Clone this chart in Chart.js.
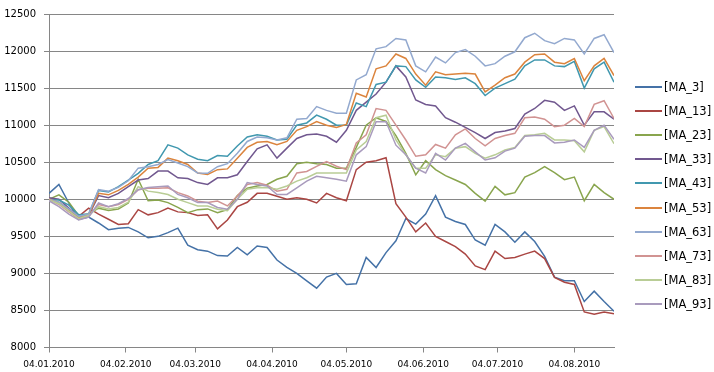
<!DOCTYPE html>
<html>
<head>
<meta charset="utf-8">
<script src="https://cdn.jsdelivr.net/npm/chart.js@4.4.0/dist/chart.umd.min.js"></script>
<style>
    body { margin: 0; background: #fff; }
    #wrap { position: relative; width: 714px; height: 372px; }
    #legend { position: absolute; left: 635px; top: 75px; font: 11.5px "DejaVu Sans"; color: #000; }
    .item { height: 24.1px; display: flex; align-items: center; white-space: nowrap; }
    .swatch { display: inline-block; width: 27px; height: 2px; margin-right: 2px; }
</style>
</head>
<body>
<div id="wrap">
    <canvas id="maChart" width="714" height="372"></canvas>
    <div id="legend"></div>
</div>
<script>
// days since 04.01.2010
const days = [0, 4, 8, 12, 16, 20, 24, 28, 32, 36, 40, 44, 48, 52, 56, 60, 64, 68, 72, 76,
    80, 84, 88, 92, 96, 100, 104, 108, 112, 116, 120, 124, 128, 132, 136, 140, 144, 148, 152, 156,
    160, 164, 168, 172, 176, 180, 184, 188, 192, 196, 200, 204, 208, 212, 216, 220, 224, 228];

const tickDays = [0, 31, 59, 90, 120, 151, 181, 212];
const tickLabels = ["04.01.2010", "04.02.2010", "04.03.2010", "04.04.2010",
    "04.05.2010", "04.06.2010", "04.07.2010", "04.08.2010"];

const seriesNames = ["[MA_3]", "[MA_13]", "[MA_23]", "[MA_33]", "[MA_43]",
    "[MA_53]", "[MA_63]", "[MA_73]", "[MA_83]", "[MA_93]"];
const seriesColors = ["#4572A7", "#AA4643", "#89A54E", "#71588F", "#4198AF",
    "#DB843D", "#93A9CF", "#D19392", "#B9CD96", "#A99BBD"];

const ma3 = [10080, 10200, 9950, 9730, 9760, 9680, 9590, 9610, 9620, 9560, 9480, 9500,
    9550, 9610, 9380, 9320, 9300, 9240, 9235, 9350, 9250, 9370, 9350, 9180,
    9080, 9000, 8900, 8800, 8950, 9000, 8850, 8860, 9215, 9080, 9280, 9440,
    9740, 9665, 9800, 10050, 9760, 9700, 9660, 9450, 9380, 9660, 9560, 9420,
    9560, 9430, 9230, 8950, 8900, 8900, 8620, 8760, 8620, 8490];
const ma13 = [10000, 9950, 9870, 9770, 9880, 9800, 9730, 9660, 9670, 9860, 9790, 9820,
    9880, 9830, 9820, 9780, 9790, 9600, 9720, 9900, 9960, 10080, 10080, 10040,
    10000, 10020, 10000, 9950, 10080, 10020, 9980, 10400, 10500, 10520, 10560, 9940,
    9760, 9560, 9680, 9500, 9430, 9360, 9260, 9100, 9050, 9300, 9200, 9215,
    9260, 9300, 9200, 8945, 8880, 8850, 8480, 8450, 8480, 8455];
const ma23 = [10000, 10060, 9960, 9780, 9800, 9880, 9850, 9870, 9950, 10270, 9980, 9990,
    9955, 9890, 9820, 9860, 9870, 9820, 9860, 10050, 10150, 10180, 10200, 10270,
    10310, 10480, 10500, 10480, 10470, 10420, 10420, 10700, 11000, 11100, 11050, 10860,
    10620, 10330, 10520, 10400, 10320, 10260, 10200, 10080, 9975, 10175, 10060, 10090,
    10300, 10360, 10440, 10360, 10265, 10300, 9980, 10200, 10090, 10000];
const ma33 = [10020, 10000, 9880, 9760, 9780, 10050, 10020, 10080, 10170, 10260, 10280, 10380,
    10380, 10290, 10280, 10225, 10200, 10290, 10290, 10330, 10510, 10680, 10735, 10555,
    10690, 10820, 10870, 10880, 10850, 10770, 10930, 11200, 11310, 11420, 11580, 11800,
    11650, 11340, 11280, 11260, 11100, 11040, 10970, 10900, 10820, 10900, 10920, 10955,
    11150, 11225, 11335, 11310, 11200, 11260, 11000, 11180, 11180, 11080];
const ma43 = [9990, 9990, 9920, 9790, 9800, 10120, 10100, 10170, 10260, 10350, 10470, 10520,
    10735, 10690, 10600, 10540, 10520, 10590, 10580, 10720, 10840, 10870, 10850, 10800,
    10810, 11000, 11030, 11135, 11080, 11000, 11000, 11300, 11250, 11550, 11580, 11800,
    11790, 11610, 11510, 11650, 11640, 11615, 11640, 11560, 11400, 11500, 11560, 11620,
    11800, 11880, 11880, 11800, 11790, 11860, 11500, 11760, 11850, 11580];
const ma53 = [10000, 9960, 9860, 9750, 9790, 10080, 10060, 10120, 10200, 10300, 10420, 10430,
    10555, 10520, 10470, 10355, 10335, 10400, 10410, 10555, 10700, 10770, 10780, 10735,
    10780, 10930, 10980, 11050, 11000, 10970, 11010, 11430, 11380, 11760, 11800, 11960,
    11900, 11690, 11540, 11720, 11680, 11690, 11700, 11690, 11450, 11540, 11640, 11690,
    11850, 11950, 11960, 11850, 11830, 11900, 11600, 11800, 11900, 11670];
const ma63 = [10000, 9960, 9870, 9770, 9800, 10130, 10110, 10160, 10250, 10420, 10440, 10470,
    10535, 10490, 10440, 10355, 10350, 10440, 10480, 10620, 10780, 10840, 10830, 10800,
    10830, 11080, 11090, 11250, 11200, 11160, 11160, 11610, 11680, 12030, 12060, 12170,
    12150, 11800, 11720, 11920, 11840, 11980, 12020, 11930, 11800, 11830, 11930, 11990,
    12180, 12240, 12140, 12100, 12170, 12150, 11960, 12170, 12220, 11980];
const ma73 = [10000, 9930, 9830, 9730, 9770, 9930, 9900, 9930, 10000, 10130, 10150, 10150,
    10155, 10090, 10045, 9975, 9955, 9975, 9910, 10045, 10200, 10225, 10190, 10110,
    10135, 10355, 10375, 10445, 10510, 10445, 10400, 10760, 10870, 11225, 11200, 11000,
    10800, 10580, 10600, 10740, 10690, 10870, 10950, 10820, 10720, 10820, 10860, 10890,
    11100, 11110, 11080, 10980, 11000, 11090, 10980, 11280, 11330, 11090];
const ma83 = [9990, 9940, 9840, 9740, 9780, 9900, 9870, 9890, 9960, 10170, 10110, 10090,
    10065, 10000, 9955, 9910, 9910, 9865, 9845, 10000, 10135, 10155, 10160, 10135,
    10180, 10245, 10290, 10355, 10355, 10355, 10355, 10665, 10780, 11100, 11135, 10800,
    10600, 10420, 10420, 10600, 10575, 10690, 10710, 10620, 10555, 10600, 10665, 10700,
    10860, 10870, 10890, 10800, 10800, 10790, 10640, 10930, 10980, 10750];
const ma93 = [9980, 9900, 9800, 9720, 9760, 9950, 9900, 9940, 10010, 10130, 10160, 10170,
    10180, 10065, 10020, 9955, 9955, 9890, 9865, 10000, 10225, 10200, 10180, 10065,
    10065, 10155, 10245, 10310, 10290, 10270, 10245, 10600, 10710, 11045, 11045, 10730,
    10600, 10420, 10355, 10620, 10530, 10690, 10755, 10640, 10530, 10560, 10650, 10690,
    10850, 10860, 10860, 10760, 10770, 10800, 10700, 10930, 11000, 10810];

const seriesValues = [ma3, ma13, ma23, ma33, ma43, ma53, ma63, ma73, ma83, ma93];

function buildDatasets() {
    return seriesValues.map((values, i) => ({
        label: seriesNames[i],
        data: values.map((v, j) => ({ x: days[j], y: v })),
        borderColor: seriesColors[i],
        backgroundColor: seriesColors[i],
        borderWidth: 1.5,
        pointRadius: 0,
        tension: 0,
        // Excel draws the first series at the bottom
        order: seriesValues.length - i,
    }));
}

function buildLegend() {
    const box = document.getElementById("legend");
    seriesNames.forEach((name, i) => {
        const row = document.createElement("div");
        row.className = "item";
        const sw = document.createElement("span");
        sw.className = "swatch";
        sw.style.backgroundColor = seriesColors[i];
        const txt = document.createElement("span");
        txt.textContent = name;
        row.appendChild(sw);
        row.appendChild(txt);
        box.appendChild(row);
    });
}

Chart.defaults.font.family = "DejaVu Sans";
Chart.defaults.color = "#000";

new Chart(document.getElementById("maChart"), {
    type: "line",
    data: { datasets: buildDatasets() },
    options: {
        responsive: false,
        animation: false,
        events: [],
        layout: { padding: { top: 11, right: 100, bottom: 0, left: 0 } },
        plugins: {
            legend: { display: false },
            tooltip: { enabled: false },
        },
        scales: {
            x: {
                type: "linear",
                min: 0,
                max: 228,
                afterBuildTicks: (scale) => {
                    scale.ticks = tickDays.map((v) => ({ value: v }));
                },
                afterFit: (scale) => {
                    scale.height = 24.5;
                },
                grid: { drawOnChartArea: false, color: "#868686", tickLength: 5 },
                border: { color: "#868686" },
                ticks: {
                    autoSkip: false,
                    maxRotation: 0,
                    padding: 7,
                    font: { size: 9 },
                    callback: (value, index) => tickLabels[index],
                },
            },
            y: {
                min: 8000,
                max: 12500,
                afterFit: (scale) => {
                    scale.width = 49;
                },
                grid: { color: "#868686", tickLength: 5 },
                border: { color: "#868686" },
                ticks: {
                    stepSize: 500,
                    padding: 8,
                    font: { size: 10 },
                    callback: (value) => String(value),
                },
            },
        },
    },
});

buildLegend();
</script>
</body>
</html>
